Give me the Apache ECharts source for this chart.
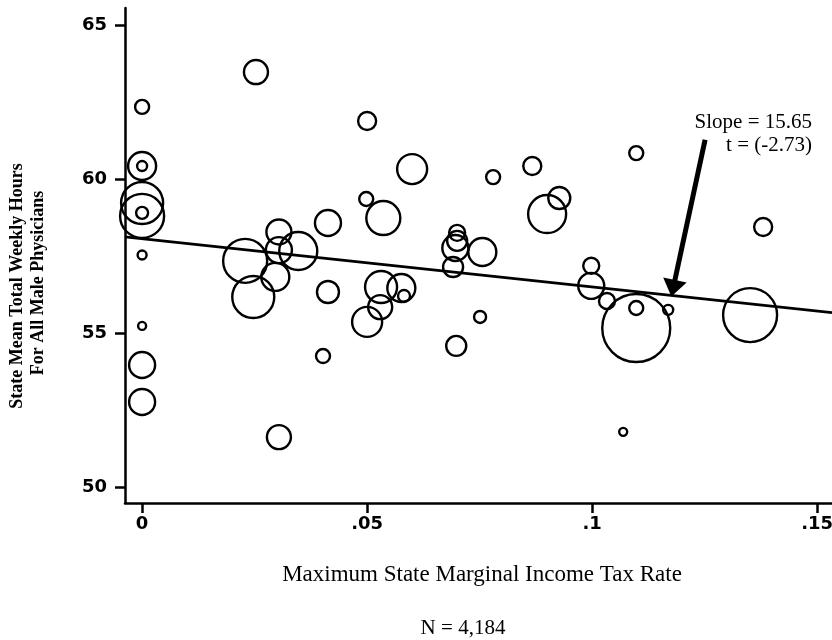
<!DOCTYPE html>
<html><head><meta charset="utf-8">
<script src="https://cdn.jsdelivr.net/npm/echarts@6/dist/echarts.min.js"></script>
<style>html,body{margin:0;padding:0;background:#fff}#c{width:832px;height:640px}</style>
</head><body><div id="c"></div>
<script>
// Maximum state marginal income tax rate per state
const taxRate = [0, 0, 0, 0, 0, 0, 0, 0, 0, 0,
  0.0229, 0.0247, 0.0304, 0.0304, 0.0347, 0.0296, 0.0413, 0.0536, 0.0413, 0.0402,
  0.0304, 0.0531, 0.0576, 0.0582, 0.0529, 0.0500, 0.0500, 0.0600, 0.0780, 0.0498,
  0.0700, 0.0700, 0.0696, 0.0691, 0.0756, 0.0751, 0.0698, 0.1098, 0.0867, 0.0927,
  0.0900, 0.0998, 0.0998, 0.1033, 0.1098, 0.1098, 0.1169, 0.1069, 0.1380, 0.1351,
  0.0253];
// State mean total weekly hours, male physicians
const meanHours = [62.34, 60.42, 60.42, 59.22, 58.80, 58.90, 57.53, 55.23, 53.96, 52.76,
  57.34, 56.17, 58.28, 57.69, 57.66, 56.82, 58.57, 58.73, 56.33, 54.25,
  51.62, 56.49, 56.46, 56.20, 55.84, 55.36, 61.88, 60.32, 60.06, 59.35,
  58.25, 57.99, 57.76, 57.14, 57.63, 55.52, 54.58, 60.84, 60.42, 59.38,
  58.86, 57.18, 56.53, 56.04, 55.16, 55.81, 55.75, 51.79, 58.44, 55.58,
  63.47];
// Relative weight (sample size) of each state
const weight = [49, 196, 25, 441, 484, 36, 20, 16, 169, 169,
  484, 441, 156, 169, 361, 196, 169, 289, 121, 49,
  144, 256, 196, 36, 144, 225, 81, 225, 49, 49,
  64, 100, 169, 100, 196, 36, 100, 49, 81, 121,
  361, 64, 169, 64, 1156, 49, 25, 16, 81, 729,
  144];

const xTickValues = [0, 0.05, 0.1, 0.15];
const xTickLabels = ['0', '.05', '.1', '.15'];
const yTickValues = [50, 55, 60, 65];
const yTickLabels = ['50', '55', '60', '65'];

const xRange = [-0.0038, 0.1533];
const yRange = [49.48, 65.55];

const fitIntercept = 58.06;
const fitSlope = -15.65;

const arrowFrom = [0.1251, 61.27];
const arrowTo = [0.1180, 56.45];

const xTitle = 'Maximum State Marginal Income Tax Rate';
const yTitle1 = 'State Mean Total Weekly Hours';
const yTitle2 = 'For All Male Physicians';
const noteN = 'N = 4,184';
const noteSlope = 'Slope = 15.65';
const noteT = 't = (-2.73)';

function lookup(vals, labels, v) {
  for (let i = 0; i < vals.length; i++) if (Math.abs(vals[i] - v) < 1e-9) return labels[i];
  return '';
}

const chart = echarts.init(document.getElementById('c'), null, {renderer: 'canvas'});
const black = '#000';
const serif = '"Liberation Serif", "Times New Roman", serif';

chart.setOption({
  animation: false,
  backgroundColor: '#fff',
  grid: {left: 125, right: 0, top: 8, bottom: 137, containLabel: false, outerBoundsMode: 'none'},
  xAxis: {
    type: 'value', min: xRange[0], max: xRange[1],
    axisLine: {show: true, onZero: false, lineStyle: {color: black, width: 2.5}},
    axisTick: {show: true, length: 10, customValues: xTickValues, lineStyle: {color: black, width: 2.5}},
    axisLabel: {customValues: xTickValues, margin: 12, color: black,
      fontFamily: '"DejaVu Sans", sans-serif', fontWeight: 'bold', fontSize: 18,
      formatter: v => lookup(xTickValues, xTickLabels, v)},
    splitLine: {show: false}
  },
  yAxis: {
    type: 'value', min: yRange[0], max: yRange[1],
    axisLine: {show: true, onZero: false, lineStyle: {color: black, width: 2.5}},
    axisTick: {show: true, length: 10, customValues: yTickValues, lineStyle: {color: black, width: 2.5}},
    axisLabel: {customValues: yTickValues, margin: 18, color: black,
      fontFamily: '"DejaVu Sans", sans-serif', fontWeight: 'bold', fontSize: 18,
      formatter: v => lookup(yTickValues, yTickLabels, v)},
    splitLine: {show: false}
  },
  series: [
    {
      type: 'scatter',
      data: taxRate.map((x, i) => [x, meanHours[i], weight[i]]),
      symbol: 'circle',
      symbolSize: v => 2 * Math.sqrt(v[2]),
      itemStyle: {color: 'rgba(0,0,0,0)', borderColor: black, borderWidth: 2.4, opacity: 1},
      emphasis: {disabled: true},
      silent: true,
      z: 3
    },
    {
      type: 'line',
      data: [[xRange[0], fitIntercept + fitSlope * xRange[0]], [xRange[1], fitIntercept + fitSlope * xRange[1]]],
      symbol: 'none',
      lineStyle: {color: black, width: 2.6},
      silent: true,
      z: 4,
      markLine: {
        silent: true,
        symbol: ['none', 'triangle'],
        symbolSize: [24, 17],
        label: {show: false},
        lineStyle: {color: black, width: 5, type: 'solid'},
        data: [[{coord: arrowFrom}, {coord: arrowTo}]]
      }
    }
  ],
  graphic: [
    {type: 'text', x: 482, y: 575, style: {text: xTitle, fill: black, font: '23px ' + serif, align: 'center', verticalAlign: 'middle'}},
    {type: 'text', x: 463, y: 628, style: {text: noteN, fill: black, font: '21px ' + serif, align: 'center', verticalAlign: 'middle'}},
    {type: 'text', x: 812, y: 122, style: {text: noteSlope, fill: black, font: '21px ' + serif, align: 'right', verticalAlign: 'middle'}},
    {type: 'text', x: 812, y: 145, style: {text: noteT, fill: black, font: '21px ' + serif, align: 'right', verticalAlign: 'middle'}},
    {type: 'text', x: 17, y: 286, rotation: Math.PI / 2, style: {text: yTitle1, fill: black, font: 'bold 18px ' + serif, align: 'center', verticalAlign: 'middle'}},
    {type: 'text', x: 38, y: 283, rotation: Math.PI / 2, style: {text: yTitle2, fill: black, font: 'bold 18px ' + serif, align: 'center', verticalAlign: 'middle'}}
  ]
});
</script>
</body></html>
